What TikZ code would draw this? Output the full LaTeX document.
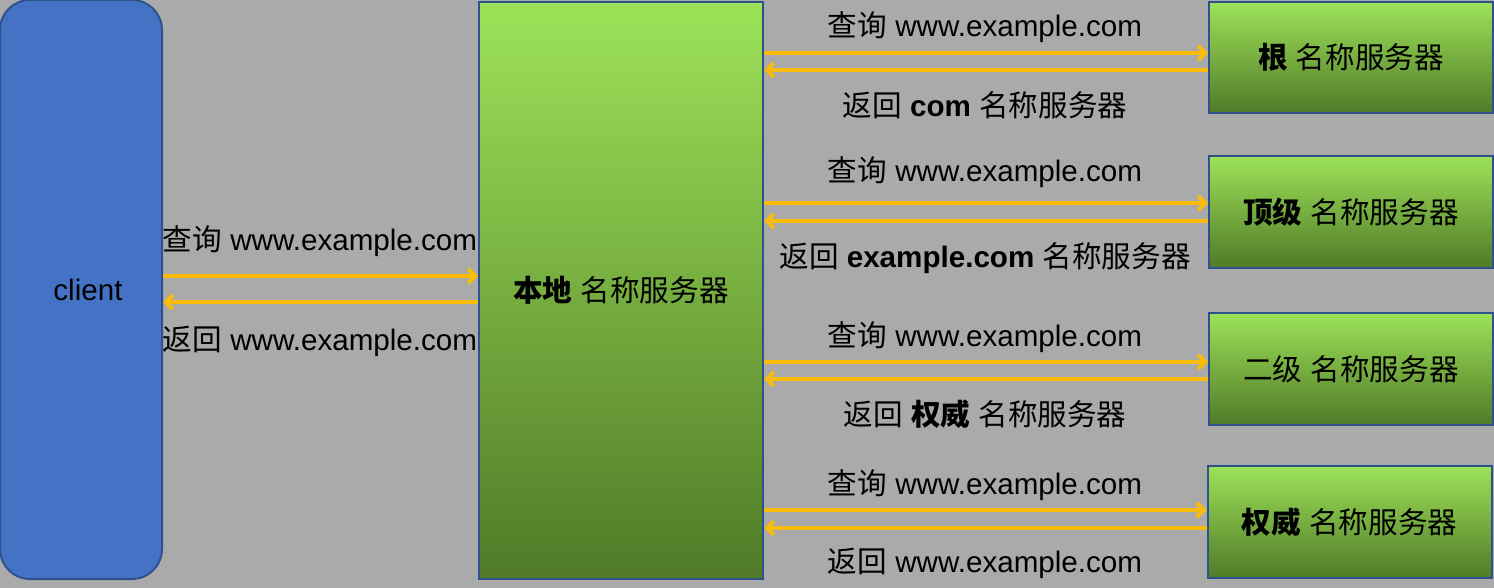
\documentclass[tikz,border=0pt]{standalone}
\usepackage{fontspec}
\setmainfont{Liberation Sans}
\newfontfamily\cjk{Noto Sans CJK SC}
\newcommand{\hz}[1]{{\cjk #1}}
\usetikzlibrary{arrows.meta}
\definecolor{bggray}{RGB}{170,170,170}
\definecolor{clientblue}{RGB}{68,114,196}
\definecolor{borderblue}{RGB}{47,82,143}
\definecolor{lightgreen}{RGB}{157,226,88}
\definecolor{darkgreen}{RGB}{80,122,40}
\definecolor{msgyellow}{RGB}{250,188,10}

\begin{document}
\begin{tikzpicture}[x=0.5pt, y=-0.5pt,
  every node/.style={font=\fontsize{14.8}{17}\selectfont, inner sep=0pt},
  server/.style={draw=borderblue, line width=1pt, top color=lightgreen,
    bottom color=darkgreen, minimum width=142pt},
  msg/.style={draw=msgyellow, line width=2pt,
    -{Straight Barb[length=3.5pt,width=7pt]}}]
  % Draw background
  \fill[bggray, use as bounding box] (0,0) rectangle (1494,588);

  % Draw client and local server
  \node (client) [draw=borderblue, line width=1pt, fill=clientblue,
    rounded corners=15pt, minimum width=81pt, minimum height=289.5pt]
    at (81,289.5) {\hspace*{7pt}client};
  \node (local) [server, minimum height=288.5pt] at (621,290.5)
    {\hz{\bfseries 本地} \hz{名称服务器}};

  % Draw servers on the right
  \node (root) [server, minimum height=55.5pt] at (1351,57.5)
    {\hz{\bfseries 根} \hz{名称服务器}};
  \node (tld) [server, minimum height=56pt] at (1351,212)
    {\hz{\bfseries 顶级} \hz{名称服务器}};
  \node (sld) [server, minimum height=56pt] at (1351,369)
    {\hz{二级} \hz{名称服务器}};
  \node (auth) [server, minimum height=56pt] at (1349.5,522)
    {\hz{\bfseries 权威} \hz{名称服务器}};

  % Draw client messages
  \node (qc) at (320,241) {\hz{查询} www.example.com};
  \node (rc) at (320,341) {\hz{返回} www.example.com};
  \draw[msg] (client.east |- 0,276) -- (local.west |- 0,276);
  \draw[msg] (local.west |- 0,302) -- (client.east |- 0,302);

  % Draw server messages
  \foreach \srv/\ya/\yb in {root/53/70, tld/203/221, sld/362/379, auth/510/528} {
    \draw[msg] (local.east |- 0,\ya) -- (\srv.west |- 0,\ya);
    \draw[msg] (\srv.west |- 0,\yb) -- (local.east |- 0,\yb);
  }
  \node (qroot) at (985,27) {\hz{查询} www.example.com};
  \node (rroot) at (985,105) {\hz{返回} \textbf{com} \hz{名称服务器}};
  \node (qtld) at (985,172) {\hz{查询} www.example.com};
  \node (rtld) at (985,258) {\hz{返回} \textbf{example.com} \hz{名称服务器}};
  \node (qsld) at (985,337) {\hz{查询} www.example.com};
  \node (rsld) at (985,414) {\hz{返回} \hz{\bfseries 权威} \hz{名称服务器}};
  \node (qauth) at (985,485) {\hz{查询} www.example.com};
  \node (rauth) at (985,563) {\hz{返回} www.example.com};
\end{tikzpicture}
\end{document}
